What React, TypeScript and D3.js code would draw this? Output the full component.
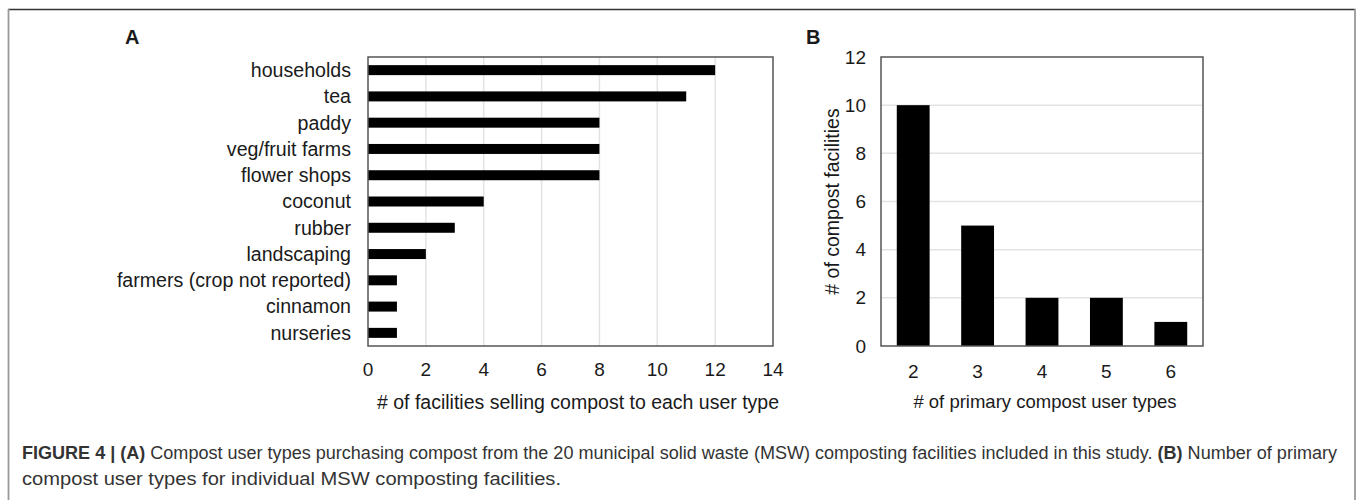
import React from "react";
import * as d3 from "d3";

const userTypes = [
  "households",
  "tea",
  "paddy",
  "veg/fruit farms",
  "flower shops",
  "coconut",
  "rubber",
  "landscaping",
  "farmers (crop not reported)",
  "cinnamon",
  "nurseries",
];
const facilitiesPerType = [12, 11, 8, 8, 8, 4, 3, 2, 1, 1, 1];
const xTicksA = [0, 2, 4, 6, 8, 10, 12, 14];

const numUserTypes = ["2", "3", "4", "5", "6"];
const facilitiesCount = [10, 5, 2, 2, 1];
const yTicksB = [0, 2, 4, 6, 8, 10, 12];

const captionLine1Parts = [
  { t: "FIGURE 4 | (A)", b: true },
  { t: " Compost user types purchasing compost from the 20 municipal solid waste (MSW) composting facilities included in this study. ", b: false },
  { t: "(B)", b: true },
  { t: " Number of primary", b: false },
];
const captionLine2 = "compost user types for individual MSW composting facilities.";

const FONT = "'Liberation Sans', Arial, Helvetica, sans-serif";
const CAPTION_FONT = "'Liberation Sans Narrow', 'Liberation Sans', Arial, sans-serif";

export default function App() {
  const W = 1357;
  const H = 500;

  // Panel A
  const aL = 368, aR = 773, aT = 57, aB = 346;
  const xA = d3.scaleLinear().domain([0, 14]).range([aL, aR]);
  const yA = d3.scaleBand<string>().domain(userTypes).range([aT, aB]).paddingInner(0.62).paddingOuter(0.31);

  // Panel B
  const bL = 881, bR = 1203, bT = 57, bB = 346;
  const xB = d3.scaleBand<string>().domain(numUserTypes).range([bL, bR]).paddingInner(0.49).paddingOuter(0.245);
  const yB = d3.scaleLinear().domain([0, 12]).range([bB, bT]);

  const textColor = "#1a1a1a";
  const gridColor = "#e3e3e3";
  const borderColor = "#555";

  return (
    <svg
      width={W}
      height={H}
      style={{ position: "absolute", left: 0, top: 0, background: "#fff" }}
      fontFamily={FONT}
    >
      <rect x={0} y={0} width={W} height={H} fill="#fff" />
      {/* frame */}
      <line x1={8} x2={1355.5} y1={9.5} y2={9.5} stroke="#333" strokeWidth={1.5} />
      <line x1={8.5} x2={8.5} y1={9} y2={H} stroke="#999" strokeWidth={1.8} />
      <line x1={1355} x2={1355} y1={9} y2={H} stroke="#999" strokeWidth={1.8} />

      {/* Panel A */}
      <text x={125} y={44} fontSize={20} fontWeight="bold" fill={textColor}>A</text>
      {xTicksA.slice(1, -1).map((t) => (
        <line key={"ga" + t} x1={xA(t)} x2={xA(t)} y1={aT} y2={aB} stroke={gridColor} strokeWidth={1.5} />
      ))}
      {userTypes.map((c, i) => (
        <rect
          key={"ba" + c}
          x={xA(0)}
          y={yA(c)!}
          width={xA(facilitiesPerType[i]) - xA(0)}
          height={yA.bandwidth()}
          fill="#000"
        />
      ))}
      <rect x={aL} y={aT} width={aR - aL} height={aB - aT} fill="none" stroke={borderColor} strokeWidth={1.5} />
      {userTypes.map((c) => (
        <text
          key={"la" + c}
          x={351}
          y={yA(c)! + yA.bandwidth() / 2}
          dy="0.35em"
          textAnchor="end"
          fontSize={19.6}
          fill={textColor}
        >
          {c}
        </text>
      ))}
      {xTicksA.map((t) => (
        <text key={"ta" + t} x={xA(t)} y={369} dy="0.35em" textAnchor="middle" fontSize={19} fill={textColor}>
          {t}
        </text>
      ))}
      <text x={578} y={402} dy="0.35em" textAnchor="middle" fontSize={19.5} fill={textColor}>
        # of facilities selling compost to each user type
      </text>

      {/* Panel B */}
      <text x={806} y={44} fontSize={20} fontWeight="bold" fill={textColor}>B</text>
      {yTicksB.slice(1, -1).map((t) => (
        <line key={"gb" + t} x1={bL} x2={bR} y1={yB(t)} y2={yB(t)} stroke={gridColor} strokeWidth={1.5} />
      ))}
      {numUserTypes.map((c, i) => (
        <rect
          key={"bb" + c}
          x={xB(c)!}
          y={yB(facilitiesCount[i])}
          width={xB.bandwidth()}
          height={yB(0) - yB(facilitiesCount[i])}
          fill="#000"
        />
      ))}
      <rect x={bL} y={bT} width={bR - bL} height={bB - bT} fill="none" stroke={borderColor} strokeWidth={1.5} />
      {yTicksB.map((t) => (
        <text key={"tb" + t} x={866} y={yB(t)} dy="0.35em" textAnchor="end" fontSize={19} fill={textColor}>
          {t}
        </text>
      ))}
      {numUserTypes.map((c) => (
        <text
          key={"xb" + c}
          x={xB(c)! + xB.bandwidth() / 2}
          y={371}
          dy="0.35em"
          textAnchor="middle"
          fontSize={19}
          fill={textColor}
        >
          {c}
        </text>
      ))}
      <text x={1045} y={402} dy="0.35em" textAnchor="middle" fontSize={18.5} fill={textColor}>
        # of primary compost user types
      </text>
      <text
        transform={`translate(832, ${(bT + bB) / 2}) rotate(-90)`}
        dy="0.35em"
        textAnchor="middle"
        fontSize={19.5}
        fill={textColor}
      >
        # of compost facilities
      </text>

      {/* Caption */}
      <text x={22} y={459} fontSize={17.5} fill="#333" fontFamily={CAPTION_FONT} textLength={1315} lengthAdjust="spacingAndGlyphs">
        {captionLine1Parts.map((p, i) => (
          <tspan key={i} fontWeight={p.b ? "bold" : "normal"}>{p.t}</tspan>
        ))}
      </text>
      <text x={22} y={485} fontSize={17.5} fill="#333" fontFamily={CAPTION_FONT} textLength={539} lengthAdjust="spacingAndGlyphs">
        {captionLine2}
      </text>
    </svg>
  );
}
